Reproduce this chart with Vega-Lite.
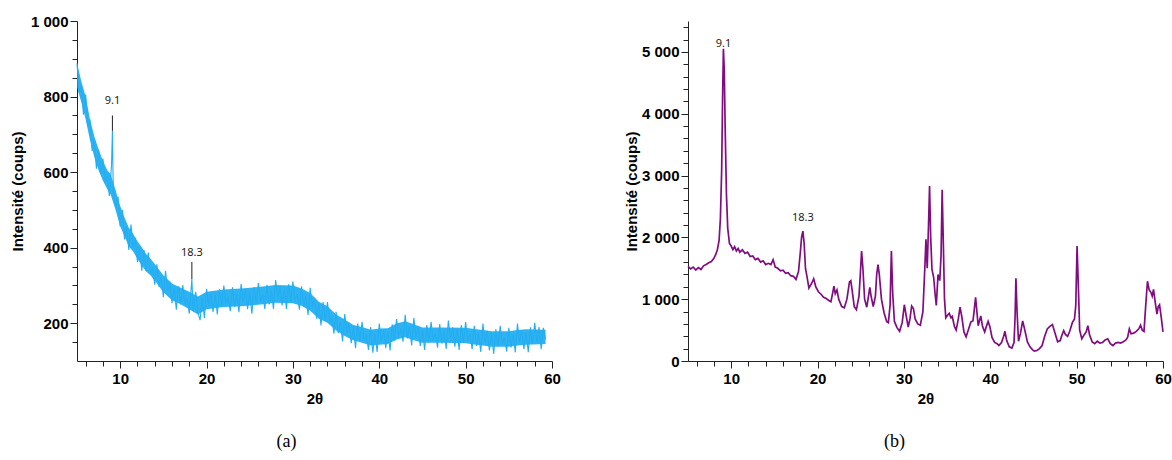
{
  "$schema": "https://vega.github.io/schema/vega-lite/v6.json",
  "padding": {"left": 10, "top": 14, "right": 5, "bottom": 5},
  "spacing": 63,
  "config": {
    "view": {"stroke": null},
    "axis": {
      "labelFont": "Liberation Sans", "labelFontWeight": "bold", "labelFontSize": 15, "labelColor": "#000",
      "titleFont": "Liberation Sans", "titleFontWeight": "bold", "titleFontSize": 15, "titleColor": "#000",
      "domainColor": "#222", "tickColor": "#222", "grid": false, "labelOverlap": false, "labelFlush": false
    },
    "title": {"font": "Liberation Serif", "fontSize": 18, "fontWeight": "normal", "color": "#000"}
  },
  "datasets": {
    "a": [
      {"x":5.00,"y":888},{"x":5.25,"y":810},{"x":5.50,"y":830},{"x":5.75,"y":752},{"x":6.00,"y":805},{"x":6.25,"y":725},{"x":6.50,"y":736},{"x":6.75,"y":656},
      {"x":7.00,"y":683},{"x":7.25,"y":609},{"x":7.50,"y":660},{"x":7.75,"y":595},{"x":8.00,"y":636},{"x":8.25,"y":577},{"x":8.50,"y":588},{"x":8.75,"y":537},
      {"x":9.00,"y":620},{"x":9.10,"y":709},{"x":9.20,"y":550},{"x":9.50,"y":505},{"x":9.75,"y":535},{"x":10.00,"y":456},{"x":10.25,"y":500},{"x":10.50,"y":422},
      {"x":10.75,"y":458},{"x":11.00,"y":394},{"x":11.25,"y":461},{"x":11.50,"y":400},{"x":11.75,"y":426},{"x":12.00,"y":362},{"x":12.25,"y":401},{"x":12.50,"y":339},
      {"x":12.75,"y":394},{"x":13.00,"y":339},{"x":13.25,"y":387},{"x":13.50,"y":333},{"x":13.75,"y":346},{"x":14.00,"y":302},{"x":14.25,"y":356},{"x":14.50,"y":296},
      {"x":14.75,"y":323},{"x":15.00,"y":269},{"x":15.25,"y":339},{"x":15.50,"y":286},{"x":15.75,"y":310},{"x":16.00,"y":253},{"x":16.25,"y":294},{"x":16.50,"y":236},
      {"x":16.75,"y":298},{"x":17.00,"y":250},{"x":17.25,"y":301},{"x":17.50,"y":250},{"x":17.75,"y":266},{"x":18.00,"y":225},{"x":18.15,"y":272},{"x":18.30,"y":317},
      {"x":18.45,"y":232},{"x":18.75,"y":283},{"x":19.00,"y":228},{"x":19.25,"y":208},{"x":19.50,"y":266},{"x":19.75,"y":214},{"x":20.00,"y":291},{"x":20.25,"y":246},
      {"x":20.50,"y":278},{"x":20.75,"y":230},{"x":21.00,"y":277},{"x":21.25,"y":223},{"x":21.50,"y":290},{"x":21.75,"y":245},{"x":22.00,"y":300},{"x":22.25,"y":252},
      {"x":22.50,"y":270},{"x":22.75,"y":232},{"x":23.00,"y":295},{"x":23.25,"y":243},{"x":23.50,"y":277},{"x":23.75,"y":229},{"x":24.00,"y":304},{"x":24.25,"y":257},
      {"x":24.50,"y":287},{"x":24.75,"y":237},{"x":25.00,"y":283},{"x":25.25,"y":225},{"x":25.50,"y":296},{"x":25.75,"y":251},{"x":26.00,"y":306},{"x":26.25,"y":258},
      {"x":26.50,"y":277},{"x":26.75,"y":238},{"x":27.00,"y":302},{"x":27.25,"y":250},{"x":27.50,"y":285},{"x":27.75,"y":238},{"x":28.00,"y":314},{"x":28.25,"y":266},
      {"x":28.50,"y":297},{"x":28.75,"y":247},{"x":29.00,"y":292},{"x":29.25,"y":238},{"x":29.50,"y":303},{"x":29.75,"y":257},{"x":30.00,"y":310},{"x":30.25,"y":261},
      {"x":30.50,"y":277},{"x":30.75,"y":236},{"x":31.00,"y":298},{"x":31.25,"y":243},{"x":31.50,"y":274},{"x":31.75,"y":222},{"x":32.00,"y":294},{"x":32.25,"y":242},
      {"x":32.50,"y":267},{"x":32.75,"y":212},{"x":33.00,"y":252},{"x":33.25,"y":194},{"x":33.50,"y":256},{"x":33.75,"y":206},{"x":34.00,"y":256},{"x":34.25,"y":203},
      {"x":34.50,"y":216},{"x":34.75,"y":172},{"x":35.00,"y":230},{"x":35.25,"y":174},{"x":35.50,"y":204},{"x":35.75,"y":152},{"x":36.00,"y":224},{"x":36.25,"y":173},
      {"x":36.50,"y":201},{"x":36.75,"y":147},{"x":37.00,"y":190},{"x":37.25,"y":134},{"x":37.50,"y":199},{"x":37.75,"y":152},{"x":38.00,"y":204},{"x":38.25,"y":154},
      {"x":38.50,"y":170},{"x":38.75,"y":129},{"x":39.00,"y":190},{"x":39.25,"y":122},{"x":39.50,"y":172},{"x":39.75,"y":124},{"x":40.00,"y":199},{"x":40.25,"y":152},
      {"x":40.50,"y":183},{"x":40.75,"y":134},{"x":41.00,"y":180},{"x":41.25,"y":128},{"x":41.50,"y":197},{"x":41.75,"y":154},{"x":42.00,"y":211},{"x":42.25,"y":166},
      {"x":42.50,"y":187},{"x":42.75,"y":151},{"x":43.00,"y":222},{"x":43.25,"y":160},{"x":43.50,"y":192},{"x":43.75,"y":141},{"x":44.00,"y":214},{"x":44.25,"y":164},
      {"x":44.50,"y":192},{"x":44.75,"y":140},{"x":45.00,"y":183},{"x":45.25,"y":129},{"x":45.50,"y":195},{"x":45.75,"y":150},{"x":46.00,"y":204},{"x":46.25,"y":156},
      {"x":46.50,"y":174},{"x":46.75,"y":135},{"x":47.00,"y":198},{"x":47.25,"y":146},{"x":47.50,"y":180},{"x":47.75,"y":132},{"x":48.00,"y":207},{"x":48.25,"y":159},
      {"x":48.50,"y":189},{"x":48.75,"y":138},{"x":49.00,"y":183},{"x":49.25,"y":129},{"x":49.50,"y":195},{"x":49.75,"y":150},{"x":50.00,"y":203},{"x":50.25,"y":154},
      {"x":50.50,"y":171},{"x":50.75,"y":131},{"x":51.00,"y":193},{"x":51.25,"y":140},{"x":51.50,"y":173},{"x":51.75,"y":124},{"x":52.00,"y":199},{"x":52.25,"y":150},
      {"x":52.50,"y":180},{"x":52.75,"y":128},{"x":53.00,"y":173},{"x":53.25,"y":119},{"x":53.50,"y":184},{"x":53.75,"y":139},{"x":54.00,"y":193},{"x":54.25,"y":145},
      {"x":54.50,"y":163},{"x":54.75,"y":125},{"x":55.00,"y":188},{"x":55.25,"y":136},{"x":55.50,"y":171},{"x":55.75,"y":123},{"x":56.00,"y":199},{"x":56.25,"y":151},
      {"x":56.50,"y":182},{"x":56.75,"y":131},{"x":57.00,"y":177},{"x":57.25,"y":123},{"x":57.50,"y":189},{"x":57.75,"y":145},{"x":58.00,"y":201},{"x":58.25,"y":151},
      {"x":58.50,"y":190},{"x":58.75,"y":131},{"x":59.00,"y":188},{"x":59.25,"y":158}
    ],
    "aBand": [
      {"x":5.0,"lo":825,"hi":890},{"x":5.5,"lo":785,"hi":840},{"x":6.0,"lo":740,"hi":800},{"x":6.5,"lo":685,"hi":740},{"x":7.0,"lo":640,"hi":695},
      {"x":7.5,"lo":605,"hi":660},{"x":8.0,"lo":577,"hi":630},{"x":8.5,"lo":555,"hi":605},{"x":8.9,"lo":540,"hi":595},{"x":9.4,"lo":505,"hi":557},
      {"x":10.0,"lo":457,"hi":510},{"x":10.5,"lo":430,"hi":480},{"x":11.0,"lo":403,"hi":453},{"x":11.5,"lo":390,"hi":437},{"x":12.0,"lo":370,"hi":417},
      {"x":12.5,"lo":353,"hi":401},{"x":13.0,"lo":337,"hi":383},{"x":13.5,"lo":327,"hi":371},{"x":14.0,"lo":313,"hi":357},{"x":15.0,"lo":282,"hi":327},
      {"x":16.0,"lo":261,"hi":305},{"x":17.0,"lo":250,"hi":294},{"x":18.0,"lo":237,"hi":283},{"x":19.0,"lo":223,"hi":271},{"x":20.0,"lo":237,"hi":283},
      {"x":22.0,"lo":243,"hi":289},{"x":24.0,"lo":245,"hi":292},{"x":26.0,"lo":249,"hi":296},{"x":28.0,"lo":254,"hi":301},{"x":30.0,"lo":253,"hi":300},
      {"x":31.0,"lo":246,"hi":292},{"x":32.0,"lo":233,"hi":280},{"x":33.0,"lo":212,"hi":257},{"x":34.0,"lo":201,"hi":245},{"x":35.0,"lo":181,"hi":223},
      {"x":36.0,"lo":166,"hi":210},{"x":37.0,"lo":155,"hi":195},{"x":38.0,"lo":148,"hi":190},{"x":39.0,"lo":141,"hi":183},{"x":40.0,"lo":143,"hi":186},
      {"x":41.0,"lo":145,"hi":187},{"x":42.0,"lo":157,"hi":199},{"x":43.0,"lo":163,"hi":205},{"x":44.0,"lo":155,"hi":197},{"x":45.0,"lo":148,"hi":189},
      {"x":47.0,"lo":148,"hi":189},{"x":50.0,"lo":147,"hi":188},{"x":51.0,"lo":144,"hi":185},{"x":52.0,"lo":141,"hi":182},{"x":53.0,"lo":138,"hi":179},
      {"x":55.0,"lo":138,"hi":179},{"x":56.0,"lo":141,"hi":182},{"x":57.0,"lo":143,"hi":184},{"x":59.25,"lo":145,"hi":183}
    ],
    "aRules": [{"x": 9.1, "y": 709, "y2": 750}, {"x": 18.3, "y": 317, "y2": 362}],
    "aLabels": [{"x": 9.1, "y": 788, "label": "9.1"}, {"x": 18.3, "y": 385, "label": "18.3"}],
    "b": [
      {"x":5.0,"y":1530},{"x":5.3,"y":1490},{"x":5.6,"y":1520},{"x":5.9,"y":1470},{"x":6.2,"y":1510},{"x":6.5,"y":1480},{"x":6.8,"y":1540},{"x":7.1,"y":1560},
      {"x":7.4,"y":1590},{"x":7.7,"y":1610},{"x":8.0,"y":1660},{"x":8.2,"y":1720},{"x":8.4,"y":1800},{"x":8.6,"y":1950},{"x":8.75,"y":2300},{"x":8.9,"y":3100},
      {"x":9.0,"y":4200},{"x":9.1,"y":5050},{"x":9.2,"y":4700},{"x":9.3,"y":3800},{"x":9.45,"y":2700},{"x":9.6,"y":2150},{"x":9.8,"y":1900},{"x":10.0,"y":1860},
      {"x":10.2,"y":1800},{"x":10.4,"y":1850},{"x":10.6,"y":1780},{"x":10.8,"y":1820},{"x":11.0,"y":1760},{"x":11.3,"y":1800},{"x":11.6,"y":1740},{"x":11.9,"y":1760},
      {"x":12.2,"y":1690},{"x":12.5,"y":1700},{"x":12.8,"y":1640},{"x":13.1,"y":1660},{"x":13.4,"y":1600},{"x":13.7,"y":1620},{"x":14.0,"y":1560},{"x":14.3,"y":1580},
      {"x":14.6,"y":1560},{"x":14.85,"y":1640},{"x":15.1,"y":1520},{"x":15.4,"y":1500},{"x":15.7,"y":1460},{"x":16.0,"y":1470},{"x":16.3,"y":1420},{"x":16.6,"y":1430},
      {"x":16.9,"y":1380},{"x":17.2,"y":1370},{"x":17.5,"y":1320},{"x":17.8,"y":1450},{"x":18.0,"y":1750},{"x":18.15,"y":2000},{"x":18.3,"y":2100},{"x":18.45,"y":1900},
      {"x":18.6,"y":1500},{"x":18.8,"y":1350},{"x":19.0,"y":1180},{"x":19.3,"y":1250},{"x":19.55,"y":1330},{"x":19.8,"y":1200},{"x":20.1,"y":1120},{"x":20.4,"y":1080},
      {"x":20.7,"y":1030},{"x":21.0,"y":1010},{"x":21.3,"y":980},{"x":21.55,"y":960},{"x":21.75,"y":1100},{"x":21.9,"y":1210},{"x":22.05,"y":1090},{"x":22.25,"y":1150},
      {"x":22.45,"y":1000},{"x":22.8,"y":880},{"x":23.1,"y":860},{"x":23.4,"y":1000},{"x":23.7,"y":1280},{"x":23.85,"y":1300},{"x":24.0,"y":1150},{"x":24.25,"y":880},
      {"x":24.5,"y":830},{"x":24.8,"y":1050},{"x":24.95,"y":1400},{"x":25.1,"y":1780},{"x":25.25,"y":1500},{"x":25.45,"y":1000},{"x":25.7,"y":870},{"x":25.9,"y":1050},
      {"x":26.05,"y":1190},{"x":26.2,"y":1050},{"x":26.45,"y":880},{"x":26.7,"y":1050},{"x":26.85,"y":1400},{"x":27.0,"y":1560},{"x":27.15,"y":1400},{"x":27.4,"y":1000},
      {"x":27.7,"y":780},{"x":28.0,"y":640},{"x":28.2,"y":620},{"x":28.4,"y":900},{"x":28.55,"y":1780},{"x":28.7,"y":1100},{"x":28.9,"y":640},{"x":29.2,"y":540},
      {"x":29.5,"y":480},{"x":29.8,"y":620},{"x":30.05,"y":910},{"x":30.3,"y":700},{"x":30.5,"y":550},{"x":30.7,"y":680},{"x":30.9,"y":890},{"x":31.1,"y":850},
      {"x":31.3,"y":680},{"x":31.6,"y":600},{"x":31.9,"y":580},{"x":32.2,"y":800},{"x":32.45,"y":1600},{"x":32.55,"y":1970},{"x":32.7,"y":1500},{"x":32.85,"y":2200},
      {"x":32.97,"y":2830},{"x":33.1,"y":2000},{"x":33.25,"y":1480},{"x":33.45,"y":1350},{"x":33.6,"y":1100},{"x":33.75,"y":900},{"x":33.95,"y":1400},{"x":34.15,"y":1300},
      {"x":34.3,"y":1700},{"x":34.43,"y":2770},{"x":34.55,"y":2000},{"x":34.7,"y":1000},{"x":34.85,"y":700},{"x":35.05,"y":740},{"x":35.25,"y":770},{"x":35.45,"y":700},
      {"x":35.6,"y":720},{"x":35.85,"y":560},{"x":36.05,"y":500},{"x":36.3,"y":680},{"x":36.5,"y":870},{"x":36.7,"y":720},{"x":36.95,"y":470},{"x":37.2,"y":390},
      {"x":37.5,"y":520},{"x":37.75,"y":630},{"x":38.0,"y":650},{"x":38.2,"y":900},{"x":38.3,"y":1030},{"x":38.45,"y":800},{"x":38.6,"y":570},{"x":38.75,"y":650},
      {"x":38.9,"y":730},{"x":39.1,"y":560},{"x":39.35,"y":470},{"x":39.55,"y":560},{"x":39.75,"y":640},{"x":39.95,"y":560},{"x":40.2,"y":380},{"x":40.5,"y":300},
      {"x":40.8,"y":280},{"x":41.0,"y":250},{"x":41.3,"y":300},{"x":41.55,"y":400},{"x":41.7,"y":480},{"x":41.9,"y":330},{"x":42.2,"y":230},{"x":42.5,"y":210},
      {"x":42.75,"y":300},{"x":42.87,"y":700},{"x":42.97,"y":1340},{"x":43.1,"y":800},{"x":43.27,"y":320},{"x":43.5,"y":450},{"x":43.75,"y":650},{"x":44.0,"y":500},
      {"x":44.3,"y":310},{"x":44.6,"y":230},{"x":44.9,"y":180},{"x":45.1,"y":160},{"x":45.4,"y":170},{"x":45.7,"y":200},{"x":46.0,"y":250},{"x":46.3,"y":400},
      {"x":46.6,"y":520},{"x":46.9,"y":560},{"x":47.2,"y":590},{"x":47.5,"y":450},{"x":47.8,"y":310},{"x":48.1,"y":330},{"x":48.3,"y":420},{"x":48.5,"y":490},
      {"x":48.7,"y":430},{"x":48.95,"y":400},{"x":49.2,"y":480},{"x":49.5,"y":620},{"x":49.75,"y":680},{"x":49.9,"y":900},{"x":50.05,"y":1860},{"x":50.2,"y":1200},
      {"x":50.35,"y":500},{"x":50.6,"y":360},{"x":50.9,"y":430},{"x":51.1,"y":470},{"x":51.3,"y":570},{"x":51.5,"y":420},{"x":51.8,"y":310},{"x":52.1,"y":280},
      {"x":52.4,"y":320},{"x":52.7,"y":290},{"x":53.0,"y":300},{"x":53.3,"y":340},{"x":53.6,"y":360},{"x":53.9,"y":280},{"x":54.2,"y":250},{"x":54.5,"y":290},
      {"x":54.8,"y":300},{"x":55.1,"y":290},{"x":55.4,"y":310},{"x":55.7,"y":340},{"x":55.9,"y":380},{"x":56.1,"y":520},{"x":56.3,"y":440},{"x":56.6,"y":450},
      {"x":56.9,"y":480},{"x":57.2,"y":520},{"x":57.4,"y":580},{"x":57.6,"y":500},{"x":57.8,"y":480},{"x":58.0,"y":900},{"x":58.2,"y":1290},{"x":58.4,"y":1150},
      {"x":58.6,"y":1110},{"x":58.75,"y":1050},{"x":58.9,"y":1160},{"x":59.1,"y":950},{"x":59.3,"y":760},{"x":59.45,"y":880},{"x":59.6,"y":910},{"x":59.8,"y":700},
      {"x":60.0,"y":470}
    ],
    "bLabels": [{"x": 9.1, "y": 5130, "label": "9.1"}, {"x": 18.3, "y": 2320, "label": "18.3"}]
  },
  "hconcat": [
    {
      "width": 475,
      "height": 340,
      "title": {"text": "(a)", "orient": "bottom", "dx": -28, "offset": 27},
      "encoding": {
        "x": {
          "field": "x", "type": "quantitative",
          "scale": {"domain": [5, 60], "nice": false, "zero": false},
          "axis": {
            "title": "2θ", "values": [6,8,10,12,14,16,18,20,22,24,26,28,30,32,34,36,38,40,42,44,46,48,50,52,54,56,58,60],
            "labelExpr": "datum.value % 10 === 0 ? datum.label : ''",
            "tickSize": {"condition": {"test": "datum.value % 10 === 0", "value": 7}, "value": 5},
            "labelPadding": 3, "titlePadding": 5
          }
        },
        "y": {
          "field": "y", "type": "quantitative",
          "scale": {"domain": [100, 1000], "nice": false, "zero": false},
          "axis": {
            "title": "Intensité (coups)",
            "values": [150,200,250,300,350,400,450,500,550,600,650,700,750,800,850,900,950,1000],
            "labelExpr": "datum.value % 200 === 0 ? (datum.value >= 1000 ? floor(datum.value / 1000) + ' 000' : '' + datum.value) : ''",
            "tickSize": {"condition": {"test": "datum.value % 200 === 0", "value": 7}, "value": 5},
            "labelPadding": 2, "titlePadding": 5
          }
        }
      },
      "layer": [
        {"data": {"name": "aBand"}, "mark": {"type": "area", "color": "#0aa4ef", "opacity": 0.85}, "encoding": {"y": {"field": "lo", "type": "quantitative"}, "y2": {"field": "hi"}}},
        {"data": {"name": "a"}, "mark": {"type": "line", "color": "#22aef2", "strokeWidth": 1.1}},
        {"data": {"name": "aRules"}, "mark": {"type": "rule", "color": "#222", "strokeWidth": 1}, "encoding": {"y2": {"field": "y2"}}},
        {"data": {"name": "aLabels"}, "mark": {"type": "text", "font": "Noto Sans", "fontSize": 11, "color": "#222"}, "encoding": {"text": {"field": "label"}}}
      ]
    },
    {
      "width": 475,
      "height": 340,
      "title": {"text": "(b)", "orient": "bottom", "dx": -31, "offset": 27},
      "encoding": {
        "x": {
          "field": "x", "type": "quantitative",
          "scale": {"domain": [5, 60], "nice": false, "zero": false},
          "axis": {
            "title": "2θ", "values": [6,8,10,12,14,16,18,20,22,24,26,28,30,32,34,36,38,40,42,44,46,48,50,52,54,56,58,60],
            "labelExpr": "datum.value % 10 === 0 ? datum.label : ''",
            "tickSize": {"condition": {"test": "datum.value % 10 === 0", "value": 7}, "value": 5},
            "labelPadding": 3, "titlePadding": 5
          }
        },
        "y": {
          "field": "y", "type": "quantitative",
          "scale": {"domain": [0, 5500], "nice": false},
          "axis": {
            "title": "Intensité (coups)",
            "values": [0,200,400,600,800,1000,1200,1400,1600,1800,2000,2200,2400,2600,2800,3000,3200,3400,3600,3800,4000,4200,4400,4600,4800,5000,5200,5400],
            "labelExpr": "datum.value % 1000 === 0 ? (datum.value >= 1000 ? floor(datum.value / 1000) + ' 000' : '' + datum.value) : ''",
            "tickSize": {"condition": {"test": "datum.value % 1000 === 0", "value": 7}, "value": 5},
            "labelPadding": 2, "titlePadding": 2
          }
        }
      },
      "layer": [
        {"data": {"name": "b"}, "mark": {"type": "line", "color": "#800d80", "strokeWidth": 1.7}},
        {"data": {"name": "bLabels"}, "mark": {"type": "text", "font": "Noto Sans", "fontSize": 11, "color": "#222"}, "encoding": {"text": {"field": "label"}}}
      ]
    }
  ]
}
